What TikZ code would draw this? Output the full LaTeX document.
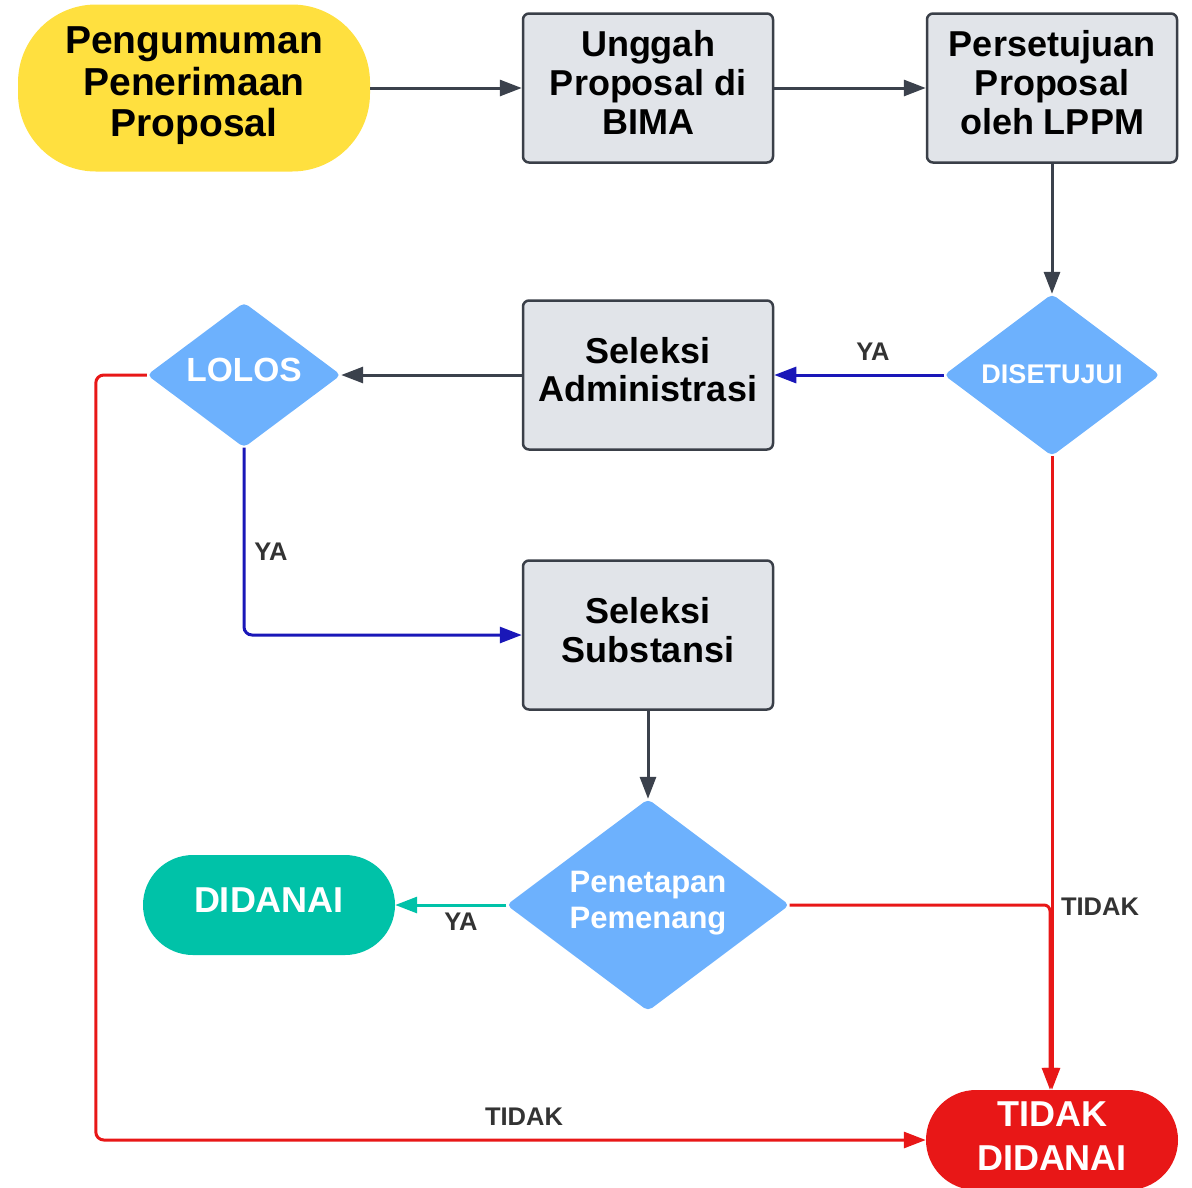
\documentclass[tikz,border=0pt]{standalone}
\usepackage{fontspec}
\setmainfont{Liberation Sans}
\usetikzlibrary{shapes.geometric,arrows.meta}
\definecolor{ylw}{HTML}{FFE03F}
\definecolor{boxfill}{HTML}{E1E4E9}
\definecolor{boxline}{HTML}{3A3F48}
\definecolor{dia}{HTML}{6DB1FD}
\definecolor{bluearr}{HTML}{1A17B8}
\definecolor{grayarr}{HTML}{3B414C}
\definecolor{teal}{HTML}{00C2A8}
\definecolor{redc}{HTML}{E81717}
\definecolor{lbl}{HTML}{333333}
\newcommand\lift[2]{\raisebox{#1}[\height][\depth]{\begin{tabular}{@{}c@{}}#2\end{tabular}}}
\tikzset{
  big/.style={font={\fontsize{36}{39}\selectfont\bfseries}},
  stepbox/.style={draw=boxline, fill=boxfill, line width=2.5pt, rounded corners=6pt,
    minimum width=250pt, minimum height=149pt, big, text=black, inner sep=0pt},
  decision/.style={diamond, aspect=1.335, fill=dia, rounded corners=5pt, inner sep=0pt,
    text=white},
  arr/.style={line width=3pt, -{Triangle[length=22pt,width=16pt]}},
  lab/.style={text=lbl, font={\fontsize{25.5}{28}\selectfont\bfseries}},
}
\begin{document}
\begin{tikzpicture}[x=1pt,y=-1pt]
\useasboundingbox (0,0) rectangle (1192,1187);
% nodes
\node[fill=ylw, rounded corners=78pt, minimum width=352pt, minimum height=167pt,
  inner sep=0pt, font={\fontsize{39}{41.5}\selectfont\bfseries}]
  (start) at (194,88) {\lift{1pt}{Pengumuman\\Penerimaan\\Proposal}};
\node[stepbox] (unggah) at (648,88) {\lift{0pt}{Unggah\\Proposal di\\BIMA}};
\node[stepbox] (setuju) at (1052,88) {\lift{0pt}{Persetujuan\\Proposal\\oleh LPPM}};
\node[decision, minimum width=216pt, minimum height=162pt,
  font={\fontsize{27}{30}\selectfont\bfseries}] (dis) at (1052,375) {\lift{-2pt}{DISETUJUI}};
\node[stepbox, font={\fontsize{36}{38}\selectfont\bfseries}] (adm) at (648,375) {\lift{0pt}{Seleksi\\Administrasi}};
\node[decision, minimum width=194pt, minimum height=145pt,
  font={\fontsize{33.5}{36}\selectfont\bfseries}] (lolos) at (244,375) {\lift{1pt}{LOLOS}};
\node[stepbox, font={\fontsize{36}{39}\selectfont\bfseries}] (subs) at (648,635) {\lift{0pt}{Seleksi\\Substansi}};
\node[decision, minimum width=283pt, minimum height=212pt,
  font={\fontsize{31}{36}\selectfont\bfseries}] (pen) at (648,905) {\lift{2pt}{Penetapan\\Pemenang}};
\node[fill=teal, rounded corners=50pt, minimum width=252pt, minimum height=100pt,
  inner sep=0pt, text=white, big] (didanai) at (269,905) {\lift{0pt}{DIDANAI}};
\node[fill=redc, rounded corners=50pt, minimum width=252pt, minimum height=100pt,
  inner sep=0pt, text=white, font={\fontsize{36}{44}\selectfont\bfseries}]
  (tidak) at (1052,1140) {\lift{0.5pt}{TIDAK\\DIDANAI}};
% connectors
\draw[arr, grayarr] (start.east) -- (unggah.west);
\draw[arr, grayarr] (unggah.east) -- (setuju.west);
\draw[arr, grayarr] (setuju.south) -- (dis.north);
\draw[arr, bluearr] (dis.west) -- (adm.east);
\draw[arr, grayarr] (adm.west) -- (lolos.east);
\draw[arr, bluearr, rounded corners=8pt] (lolos.south) |- (subs.west);
\draw[arr, grayarr] (subs.south) -- (pen.north);
\draw[arr, teal] (pen.west) -- (didanai.east);
\draw[arr, redc, rounded corners=6pt] (pen.east) -| ([xshift=-2pt]tidak.north);
\draw[arr, redc] (dis.south) -- (tidak.north);
\draw[arr, redc, rounded corners=8pt] (lolos.west) -- ++(-51,0) |- (tidak.west);
% labels
\node[lab] (ya1) at (873,352) {YA};
\node[lab] (ya2) at (271,552) {YA};
\node[lab] (ya3) at (461,922) {YA};
\node[lab] (t1) at (1100,907) {TIDAK};
\node[lab] (t2) at (524,1117) {TIDAK};
\end{tikzpicture}
\end{document}
